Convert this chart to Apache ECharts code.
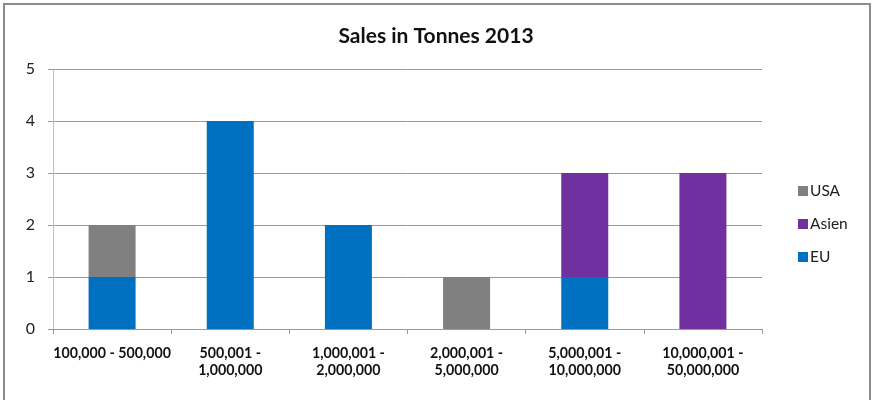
<!DOCTYPE html>
<html>
<head>
<meta charset="utf-8">
<script src="https://cdn.jsdelivr.net/npm/echarts@6/dist/echarts.min.js"></script>
<style>
  html, body { margin: 0; padding: 0; background: #fff; }
  #chart { width: 872px; height: 400px; }
</style>
</head>
<body>
<div id="chart"></div>
<script>
// Tonnage bands shown on the category axis
const categories = [
  '100,000 - 500,000',
  '500,001 -\n1,000,000',
  '1,000,001 -\n2,000,000',
  '2,000,001 -\n5,000,000',
  '5,000,001 -\n10,000,000',
  '10,000,001 -\n50,000,000'
];

// Number of sales per region in each band
const euValues = [1, 4, 2, 0, 1, 0];
const asienValues = [0, 0, 0, 0, 2, 3];
const usaValues = [1, 0, 0, 1, 0, 0];

const yTicks = [0, 1, 2, 3, 4, 5];

const font = 'Lato, "Open Sans", sans-serif';

const chart = echarts.init(document.getElementById('chart'));

function stackSeries(name, data, color) {
  return {
    name: name,
    type: 'bar',
    stack: 'total',
    data: data,
    barWidth: 47,
    itemStyle: { color: color },
    emphasis: { disabled: true }
  };
}

chart.setOption({
  animation: false,
  backgroundColor: '#fff',
  title: {
    text: 'Sales in Tonnes 2013',
    left: 'center',
    top: 21,
    textStyle: { fontFamily: font, fontSize: 21, fontWeight: 'bold', color: '#111' }
  },
  graphic: [{
    type: 'rect',
    shape: { x: 4, y: 4, width: 866, height: 430 },
    style: { fill: 'none', stroke: '#8c8c8c', lineWidth: 2 },
    silent: true
  }],
  legend: {
    orient: 'vertical',
    left: 793,
    top: 178,
    itemWidth: 10,
    itemHeight: 10,
    itemGap: 17,
    icon: 'rect',
    data: ['USA', 'Asien', 'EU'],
    textStyle: { fontFamily: font, fontSize: 15.5, color: '#222', padding: [0, 0, 0, -3] }
  },
  grid: { left: 53, right: 110, top: 69, bottom: 71 },
  xAxis: {
    type: 'category',
    data: categories,
    axisLine: { lineStyle: { color: '#999' } },
    axisTick: { show: true, length: 5, lineStyle: { color: '#999' } },
    axisLabel: {
      interval: 0,
      margin: 16,
      fontFamily: font,
      fontSize: 14.2,
      fontWeight: 'bold',
      lineHeight: 17,
      color: '#111'
    }
  },
  yAxis: {
    type: 'value',
    min: yTicks[0],
    max: yTicks[yTicks.length - 1],
    interval: 1,
    axisLine: { show: true, lineStyle: { color: '#bfbfbf' } },
    axisTick: { show: true, length: 5, lineStyle: { color: '#999' } },
    splitLine: { lineStyle: { color: '#999' } },
    axisLabel: { margin: 18, fontFamily: font, fontSize: 16, color: '#222' }
  },
  series: [
    stackSeries('EU', euValues, '#0070C0'),
    stackSeries('Asien', asienValues, '#7030A0'),
    stackSeries('USA', usaValues, '#808080')
  ]
});
</script>
</body>
</html>
